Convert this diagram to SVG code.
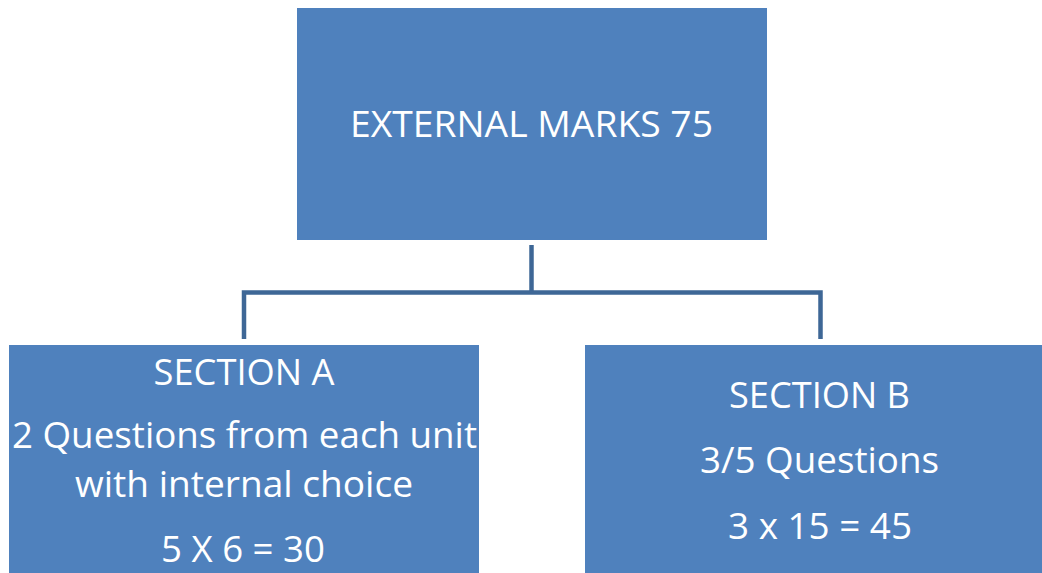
<svg xmlns="http://www.w3.org/2000/svg" width="1042" height="573" viewBox="0 0 1042 573">
  <style>
    .box { fill: #4F81BD; }
    .lbl { font-family: "Open Sans", "Noto Sans", "Liberation Sans", sans-serif; font-size: 36px; fill: #FFFFFF; text-anchor: middle; }
    .wire { fill: none; stroke: #3E6796; stroke-width: 4.5; stroke-linecap: butt; stroke-linejoin: miter; }
  </style>
  <rect width="1042" height="573" fill="#FFFFFF"/>

  <!-- connectors -->
  <g id="connectors">
    <path class="wire" d="M531.5 245 V292.5"/>
    <path class="wire" d="M244 339 V292.5 H820.5 V339"/>
  </g>

  <!-- root node -->
  <g id="external-marks">
    <rect class="box" x="297" y="8" width="470" height="232"/>
    <text class="lbl" x="531.5" y="137" textLength="363" lengthAdjust="spacingAndGlyphs">EXTERNAL MARKS 75</text>
  </g>

  <!-- section A -->
  <g id="section-a">
    <rect class="box" x="9" y="345" width="470" height="240"/>
    <text class="lbl" x="244" y="385" textLength="181" lengthAdjust="spacingAndGlyphs">SECTION A</text>
    <text class="lbl" x="244.5" y="448" textLength="465" lengthAdjust="spacingAndGlyphs">2 Questions from each unit</text>
    <text class="lbl" x="244" y="497" textLength="338" lengthAdjust="spacingAndGlyphs">with internal choice</text>
    <text class="lbl" x="243" y="562" textLength="164" lengthAdjust="spacingAndGlyphs">5 X 6 = 30</text>
  </g>

  <!-- section B -->
  <g id="section-b">
    <rect class="box" x="585" y="345" width="470" height="240"/>
    <text class="lbl" x="819.5" y="408" textLength="181" lengthAdjust="spacingAndGlyphs">SECTION B</text>
    <text class="lbl" x="819.5" y="473" textLength="239" lengthAdjust="spacingAndGlyphs">3/5 Questions</text>
    <text class="lbl" x="820" y="539" textLength="184" lengthAdjust="spacingAndGlyphs">3 x 15 = 45</text>
  </g>
</svg>
